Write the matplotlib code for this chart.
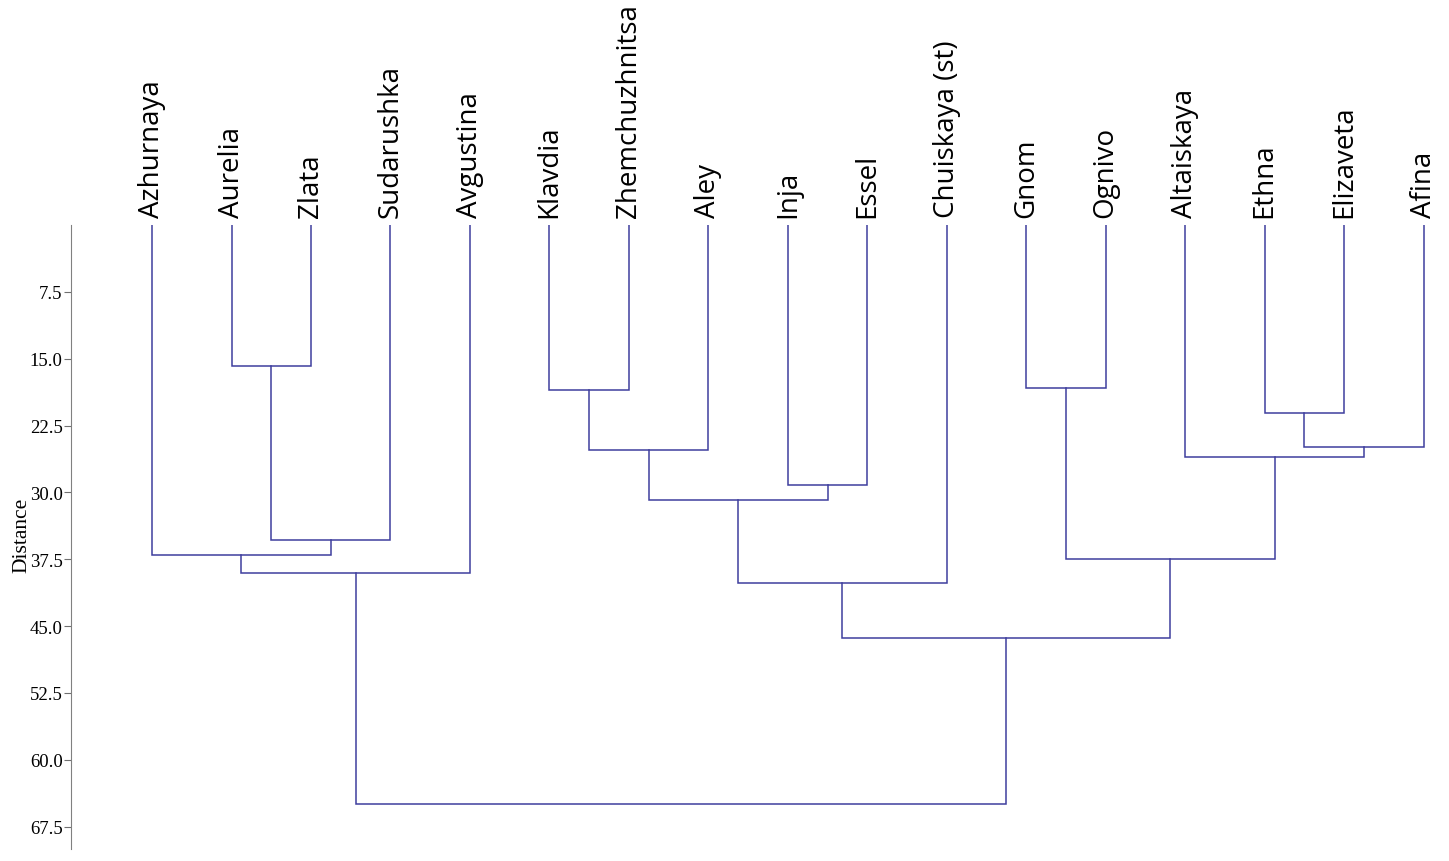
import matplotlib
matplotlib.use("Agg")
import matplotlib.pyplot as plt

# Leaf order along the x axis
leaves = ['Azhurnaya', 'Aurelia', 'Zlata', 'Sudarushka', 'Avgustina',
          'Klavdia', 'Zhemchuzhnitsa', 'Aley', 'Inja', 'Essel',
          'Chuiskaya (st)', 'Gnom', 'Ognivo', 'Altaiskaya', 'Ethna',
          'Elizaveta', 'Afina']

# Merges: (new cluster, left child, right child, distance)
merge_names = ['A', 'B', 'C', 'D', 'E', 'F', 'G', 'H', 'I', 'J', 'K', 'L', 'M', 'N', 'O', 'root']
merge_left = ['Aurelia', 'A', 'Azhurnaya', 'C', 'Klavdia', 'E', 'Inja', 'F', 'H',
              'Gnom', 'Ethna', 'K', 'Altaiskaya', 'J', 'I', 'D']
merge_right = ['Zlata', 'Sudarushka', 'B', 'Avgustina', 'Zhemchuzhnitsa', 'Aley', 'Essel', 'G',
               'Chuiskaya (st)', 'Ognivo', 'Elizaveta', 'Afina', 'L', 'M', 'N', 'O']
merge_dist = [15.8, 35.3, 37.0, 39.05, 18.5, 25.2, 29.15, 30.8, 40.2,
              18.3, 21.1, 24.9, 26.05, 37.5, 46.3, 64.9]

line_color = '#3e3e9e'

fig = plt.figure(figsize=(14.49, 8.62), dpi=100)
ax = fig.add_axes([71 / 1449, 1 - 850 / 862, 1 - 71 / 1449, (850 - 226) / 862])

# position / height of every node
pos = {name: i for i, name in enumerate(leaves)}
height = {name: 0.0 for name in leaves}

for name, l, r, d in zip(merge_names, merge_left, merge_right, merge_dist):
    xl, xr = pos[l], pos[r]
    ax.plot([xl, xl, xr, xr], [height[l], d, d, height[r]],
            color=line_color, lw=1.1, solid_joinstyle='miter')
    pos[name] = (xl + xr) / 2
    height[name] = d

ax.set_xlim(-1.02, 16.32)
ax.set_ylim(70, 0)

# leaf labels on top
ax.xaxis.tick_top()
ax.set_xticks(range(len(leaves)))
ax.set_xticklabels(leaves, rotation=90, fontsize=20, family='Open Sans')
ax.tick_params(axis='x', length=0, pad=6)

# distance axis
yticks = [7.5, 15.0, 22.5, 30.0, 37.5, 45.0, 52.5, 60.0, 67.5]
ax.set_yticks(yticks)
ax.set_yticklabels([f'{v:.1f}' for v in yticks], family='Liberation Serif', fontsize=13.5)
ax.tick_params(axis='y', length=5, width=0.8, color='#707070', pad=1)

for side in ['top', 'right', 'bottom']:
    ax.spines[side].set_visible(False)
ax.spines['left'].set_color('#808080')
ax.spines['left'].set_linewidth(0.8)

fig.text(22 / 1449, 1 - 535 / 862, 'Distance', rotation=90, ha='center', va='center',
         family='Liberation Serif', fontsize=15.5)

fig.savefig('out.png', dpi=100)
